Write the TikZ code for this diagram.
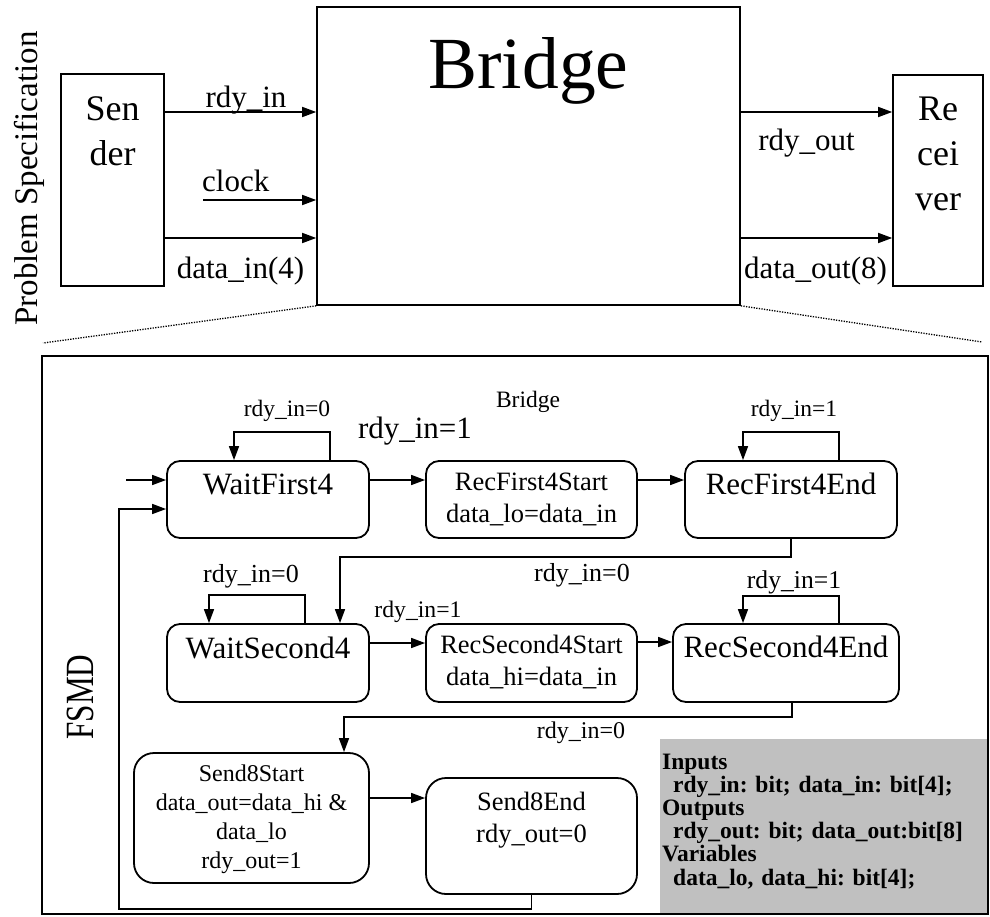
\documentclass[tikz,border=0pt]{standalone}
\usepackage{fontspec}
\usepackage{graphicx}
\setmainfont{Liberation Serif}
\usetikzlibrary{arrows.meta}
\definecolor{legendgray}{RGB}{192,192,192}
\newcommand\fsz[2]{\fontsize{#1}{#2}\selectfont}
\frenchspacing

\begin{document}
\begin{tikzpicture}[x=1pt, y=-1pt,
  box/.style={draw, line width=1.6pt, inner sep=0pt, align=center, anchor=base},
  state/.style={draw, line width=1.8pt, rounded corners=13pt, inner sep=0pt, align=center, anchor=base},
  arr/.style={line width=1.6pt, -{Triangle[length=14pt,width=10pt]}},
  dotline/.style={line width=1.3pt, dash pattern=on 1.3pt off 1.3pt},
  lbl/.style={inner sep=0pt, anchor=base},
  stname/.style={font=\fsz{31}{37}},
  staction/.style={font=\fsz{26.5}{32}},
  toplbl/.style={lbl, font=\fsz{31}{37}}
]
\useasboundingbox (0,0) rectangle (990,916);

% ---------- problem specification ----------
% multi-line nodes sit on the baseline of their last line
\node[lbl, rotate=90, font=\fsz{33}{40}] (prob) at (37,178.5) {Problem Specification};

\node[box, minimum width=103pt, text height=91pt, text depth=121pt, font=\fsz{36}{45}] (sender) at (112.5,165) {Sen\\der};
\node[box, minimum width=423pt, text height=81pt, text depth=217pt, font=\fsz{73.5}{80}] (bridge) at (528.5,88) {Bridge};
\node[box, minimum width=90pt, text height=135pt, text depth=76pt, font=\fsz{36}{45}] (receiver) at (938,210) {Re\\cei\\ver};

\coordinate (yr) at (0,112);
\coordinate (yd) at (0,238);
\coordinate (clk) at (203,200);
\draw[arr] (sender.east |- yr) -- (bridge.west |- yr);
\draw[arr] (clk) -- (bridge.west |- clk);
\draw[arr] (sender.east |- yd) -- (bridge.west |- yd);
\draw[arr] (bridge.east |- yr) -- (receiver.west |- yr);
\draw[arr] (bridge.east |- yd) -- (receiver.west |- yd);

\node[toplbl] (l-rdyin) at (246,107) {rdy\_in};
\node[toplbl, anchor=base west] (l-clock) at (202,191) {clock};
\node[toplbl] (l-datain) at (240.5,278) {data\_in(4)};
\node[toplbl] (l-rdyout) at (806.5,150) {rdy\_out};
\node[toplbl] (l-dataout) at (815.5,278) {data\_out(8)};

% zoom lines towards the FSMD
\coordinate (dl) at (43,343);
\coordinate (dr) at (982,342);
\draw[dotline] (bridge.south west) -- (dl);
\draw[dotline] (bridge.south east) -- (dr);

% ---------- FSMD ----------
\node[fill=legendgray, anchor=base west, text width=325pt, inner xsep=2pt, inner ysep=0pt,
      text height=30pt, text depth=145pt, align=left, font=\bfseries\fsz{23.5}{23.2}] (legend) at (660,769)
  {Inputs\\
   \hspace*{11pt}rdy\_in: bit; data\_in: bit[4];\\
   Outputs\\
   \hspace*{11pt}rdy\_out: bit; data\_out:bit[8]\\
   Variables\\
   \hspace*{11pt}data\_lo, data\_hi: bit[4];};

\node[draw, line width=1.6pt, minimum width=946pt, minimum height=558pt, inner sep=0pt] (fsmd) at (515,635) {};
\node[lbl, rotate=90, font=\fsz{40}{48}] (l-fsmd) at (93,697) {\scalebox{0.78}[1]{FSMD}};
\node[lbl, font=\fsz{23.5}{28}] (l-bridge) at (528,407) {Bridge};

% states
\node[state, stname, minimum width=202pt, text height=33pt, text depth=44pt] (wf) at (268,494) {WaitFirst4};
\node[state, staction, minimum width=211pt, text height=61pt, text depth=16pt] (rf1s) at (531.5,522) {RecFirst4Start\\data\_lo=data\_in};
\node[state, stname, minimum width=212pt, text height=33pt, text depth=44pt] (rf1e) at (791,494) {RecFirst4End};
\node[state, stname, minimum width=202pt, text height=34pt, text depth=44pt] (ws) at (268,658) {WaitSecond4};
\node[state, staction, minimum width=211pt, text height=61pt, text depth=17pt] (rs2s) at (531.5,685) {RecSecond4Start\\data\_hi=data\_in};
\node[state, stname, minimum width=226pt, text height=33pt, text depth=45pt] (rs2e) at (786,657) {RecSecond4End};
\node[state, rounded corners=20pt, font=\fsz{24}{28.7}, minimum width=235pt, text height=115pt, text depth=15pt] (s8s) at (251.5,868)
  {Send8Start\\data\_out=data\_hi \&\\data\_lo\\rdy\_out=1};
\node[state, staction, rounded corners=20pt, minimum width=211pt, text height=64pt, text depth=52pt] (s8e) at (531.5,842) {Send8End\\rdy\_out=0};

% transitions
\coordinate (y480) at (0,480);
\coordinate (entry) at (126,480);
\draw[arr] (entry) -- (wf.west |- entry);
\draw[arr] (wf.east |- y480) -- (rf1s.west |- y480);
\draw[arr] (rf1s.east |- y480) -- (rf1e.west |- y480);

\coordinate (wfa) at (330,432); \coordinate (wfb) at (234,432);
\draw[arr] (wf.north -| wfa) -- (wfa) -- (wfb) -- (wf.north -| wfb);
\coordinate (rfa) at (839,432); \coordinate (rfb) at (743,432);
\draw[arr] (rf1e.north -| rfa) -- (rfa) -- (rfb) -- (rf1e.north -| rfb);
\coordinate (wsa) at (305,595); \coordinate (wsb) at (209,595);
\draw[arr] (ws.north -| wsa) -- (wsa) -- (wsb) -- (ws.north -| wsb);
\coordinate (rsa) at (839,596); \coordinate (rsb) at (743,596);
\draw[arr] (rs2e.north -| rsa) -- (rsa) -- (rsb) -- (rs2e.north -| rsb);

\coordinate (c1) at (340,557);
\draw[arr] (rf1e.south) |- (c1) -- (ws.north -| c1);

\coordinate (y643) at (0,643);
\coordinate (y642) at (0,642);
\draw[arr] (ws.east |- y643) -- (rs2s.west |- y643);
\draw[arr] (rs2s.east |- y642) -- (rs2e.west |- y642);

\coordinate (c2r) at (792,717); \coordinate (c2) at (344,717);
\draw[arr] (rs2e.south -| c2r) -- (c2r) -- (c2) -- (s8s.north -| c2);

\coordinate (y798) at (0,798);
\draw[arr] (s8s.east |- y798) -- (s8e.west |- y798);

\coordinate (c3) at (119,909); \coordinate (c4) at (119,509);
\draw[arr] (s8e.south) |- (c3) -- (c4) -- (wf.west |- c4);

% transition labels
\node[lbl, font=\fsz{23.5}{28}] (t-wf) at (287,416) {rdy\_in=0};
\node[lbl, font=\fsz{31}{37}] (t-wfrf) at (415,438) {rdy\_in=1};
\node[lbl, font=\fsz{23.5}{28}] (t-rf) at (794,416) {rdy\_in=1};
\node[lbl, font=\fsz{26}{31}] (t-rfws) at (582,581) {rdy\_in=0};
\node[lbl, font=\fsz{26}{31}] (t-ws) at (251,582) {rdy\_in=0};
\node[lbl, font=\fsz{23.7}{28}] (t-wsrs) at (418,617) {rdy\_in=1};
\node[lbl, font=\fsz{25.6}{30}] (t-rs) at (794,588) {rdy\_in=1};
\node[lbl, font=\fsz{24}{28}] (t-rss8) at (581,738) {rdy\_in=0};
\end{tikzpicture}
\end{document}
